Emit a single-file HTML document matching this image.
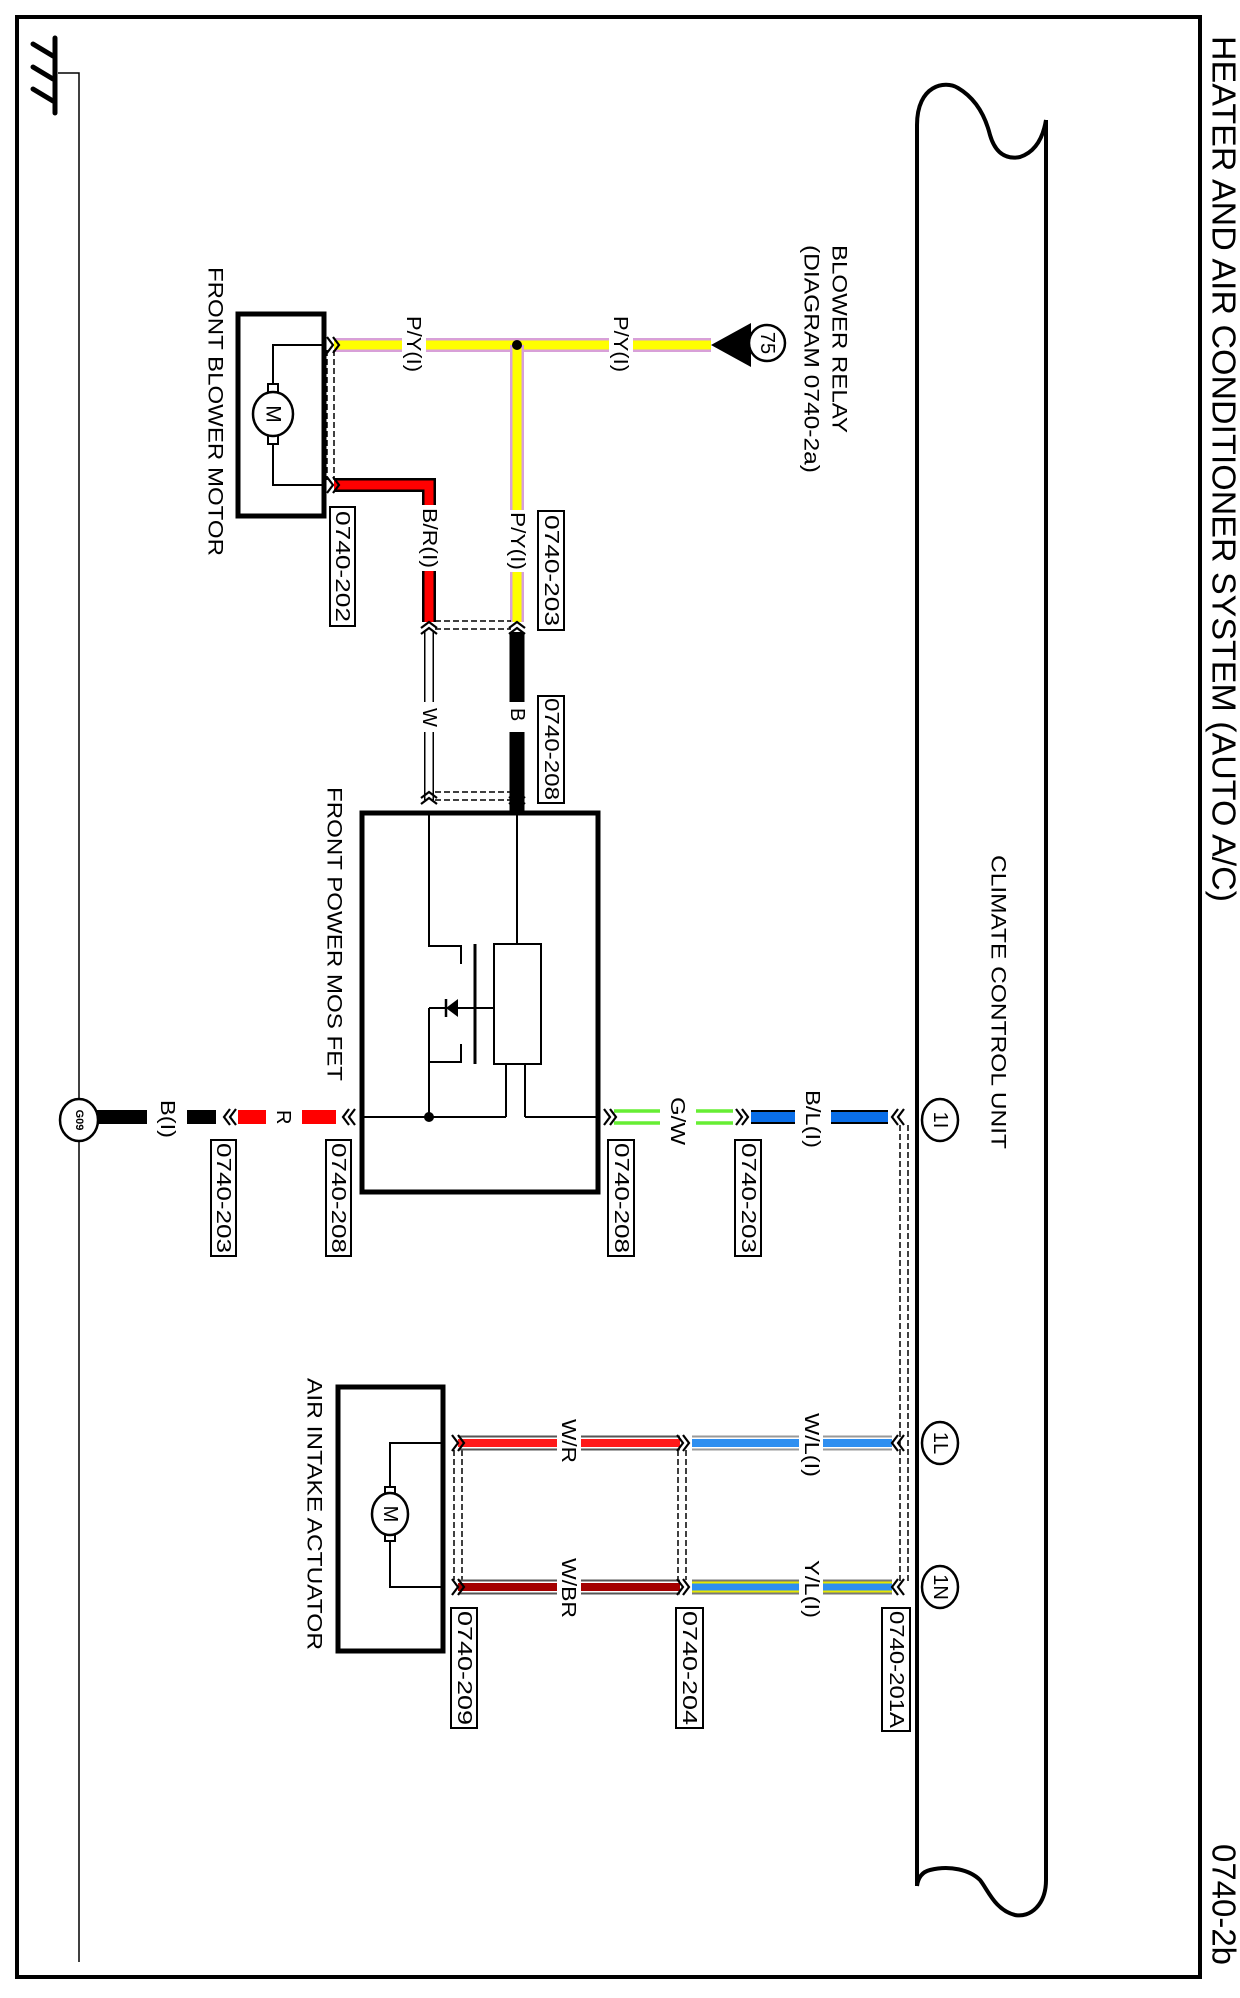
<!DOCTYPE html>
<html><head><meta charset="utf-8"><style>
html,body{margin:0;padding:0;background:#fff}
svg{display:block}
text{font-family:"Liberation Sans",sans-serif;fill:#000}
</style></head><body>
<svg width="1240" height="1998" viewBox="0 0 1240 1998" xmlns="http://www.w3.org/2000/svg">
<rect x="17" y="17" width="1183" height="1960" fill="none" stroke="#000" stroke-width="4"/>

<g stroke="#000" stroke-linecap="round">
<line x1="55" y1="38" x2="55" y2="113" stroke-width="5"/>
<line x1="33" y1="44" x2="53" y2="56" stroke-width="5"/>
<line x1="33" y1="67" x2="53" y2="79" stroke-width="5"/>
<line x1="33" y1="89" x2="53" y2="101" stroke-width="5"/>
</g>
<polyline points="58,73 79,73 79,1962" fill="none" stroke="#000" stroke-width="1.5"/>

<path d="M917,1886 L917,125 C917,85 945,80 958,88 C975,98 985,115 990,135 C995,152 1005,160 1020,157 C1035,152 1043,138 1046,120" fill="none" stroke="#000" stroke-width="4"/>
<path d="M1046,120 L1046,1880 C1046,1905 1030,1918 1015,1915 C995,1910 988,1890 980,1880 C970,1870 950,1865 930,1870 C922,1872 918,1878 917,1886" fill="none" stroke="#000" stroke-width="4"/>

<text transform="translate(1224,36) rotate(90)" dominant-baseline="central" font-size="33" textLength="866" lengthAdjust="spacingAndGlyphs">HEATER AND AIR CONDITIONER SYSTEM (AUTO A/C)</text>
<text transform="translate(1224,1844) rotate(90)" dominant-baseline="central" font-size="33" textLength="121" lengthAdjust="spacingAndGlyphs">0740-2b</text>

<g font-size="21">
<text transform="translate(839,245) rotate(90)" dominant-baseline="central" textLength="188" lengthAdjust="spacingAndGlyphs">BLOWER RELAY</text>
<text transform="translate(811,245) rotate(90)" dominant-baseline="central" textLength="228" lengthAdjust="spacingAndGlyphs">(DIAGRAM  0740-2a)</text>
<text transform="translate(215,267) rotate(90)" dominant-baseline="central" textLength="289" lengthAdjust="spacingAndGlyphs">FRONT BLOWER MOTOR</text>
<text transform="translate(334,787) rotate(90)" dominant-baseline="central" textLength="294" lengthAdjust="spacingAndGlyphs">FRONT POWER MOS FET</text>
<text transform="translate(998,855) rotate(90)" dominant-baseline="central" textLength="294" lengthAdjust="spacingAndGlyphs">CLIMATE CONTROL UNIT</text>
<text transform="translate(314,1378) rotate(90)" dominant-baseline="central" textLength="272" lengthAdjust="spacingAndGlyphs">AIR INTAKE ACTUATOR</text>
</g>

<rect x="238" y="314" width="86" height="202" fill="none" stroke="#000" stroke-width="5"/>
<polyline points="324,345 273,345 273,485 324,485" fill="none" stroke="#000" stroke-width="2"/>
<rect x="268" y="384" width="10" height="10" fill="#fff" stroke="#000" stroke-width="2"/>
<rect x="268" y="434" width="10" height="10" fill="#fff" stroke="#000" stroke-width="2"/>
<ellipse cx="273" cy="414" rx="20" ry="22" fill="#fff" stroke="#000" stroke-width="2.5"/>
<text transform="translate(273,414) rotate(90)" dominant-baseline="central" text-anchor="middle" font-size="21">M</text>

<line x1="334" y1="345" x2="711" y2="345" stroke="#d8a0d8" stroke-width="14"/>
<line x1="334" y1="345" x2="711" y2="345" stroke="#ffff00" stroke-width="9"/>
<line x1="517" y1="345" x2="517" y2="622" stroke="#d8a0d8" stroke-width="14"/>
<line x1="517" y1="345" x2="517" y2="622" stroke="#ffff00" stroke-width="9"/>
<circle cx="517" cy="345" r="5" fill="#000"/>
<polygon points="711,345 751,323 751,367" fill="#000"/>
<circle cx="767" cy="343" r="18" fill="#fff" stroke="#000" stroke-width="2.5"/>
<text transform="translate(767,343) rotate(90)" dominant-baseline="central" text-anchor="middle" font-size="20">75</text>

<polyline points="334,485 429,485 429,622" fill="none" stroke="#000" stroke-width="14"/>
<polyline points="334,485 429,485 429,622" fill="none" stroke="#ff0000" stroke-width="9"/>

<line x1="429" y1="632" x2="429" y2="800" stroke="#000" stroke-width="10"/>
<line x1="429" y1="632" x2="429" y2="800" stroke="#fff" stroke-width="7"/>
<line x1="517" y1="632" x2="517" y2="812" stroke="#000" stroke-width="15"/>

<g fill="#fff">
<rect x="402" y="312" width="24" height="62"/>
<rect x="609" y="312" width="24" height="62"/>
<rect x="418" y="505" width="24" height="66"/>
<rect x="506" y="510" width="24" height="62"/>
<rect x="418" y="702" width="24" height="30"/>
<rect x="506" y="702" width="24" height="30"/>
</g>
<g font-size="20">
<text transform="translate(413,316) rotate(90)" dominant-baseline="central" textLength="56" lengthAdjust="spacingAndGlyphs">P/Y(I)</text>
<text transform="translate(620,316) rotate(90)" dominant-baseline="central" textLength="56" lengthAdjust="spacingAndGlyphs">P/Y(I)</text>
<text transform="translate(429,508) rotate(90)" dominant-baseline="central" textLength="60" lengthAdjust="spacingAndGlyphs">B/R(I)</text>
<text transform="translate(517,512) rotate(90)" dominant-baseline="central" textLength="58" lengthAdjust="spacingAndGlyphs">P/Y(I)</text>
<text transform="translate(429,708) rotate(90)" dominant-baseline="central">W</text>
<text transform="translate(517,708) rotate(90)" dominant-baseline="central">B</text>
</g>

<g stroke="#000" stroke-width="1.5" stroke-dasharray="6,3" fill="none">
<line x1="327" y1="350" x2="327" y2="480"/><line x1="334" y1="350" x2="334" y2="480"/>
<line x1="435" y1="621" x2="511" y2="621"/><line x1="435" y1="629" x2="511" y2="629"/>
<line x1="435" y1="792" x2="511" y2="792"/><line x1="435" y1="800" x2="511" y2="800"/>
</g>
<g stroke="#000" stroke-width="2.2" fill="none">
<path d="M327,337 L333,345 L327,353 M333,337 L339,345 L333,353"/>
<path d="M327,477 L333,485 L327,493 M333,477 L339,485 L333,493"/>
<path d="M421,628 L429,622 L437,628 M421,634 L429,628 L437,634"/>
<path d="M509,628 L517,622 L525,628 M509,634 L517,628 L525,634"/>
<path d="M421,798 L429,792 L437,798 M421,804 L429,798 L437,804"/>
<path d="M509,798 L517,792 L525,798 M509,804 L517,798 L525,804"/>
</g>

<g fill="#fff" stroke="#000" stroke-width="2">
<rect x="330" y="507" width="25" height="119"/>
<rect x="538" y="511" width="26" height="119"/>
<rect x="538" y="696" width="26" height="107"/>
<rect x="211" y="1140" width="25" height="116"/>
<rect x="326" y="1140" width="25" height="116"/>
<rect x="608" y="1140" width="26" height="116"/>
<rect x="735" y="1140" width="26" height="116"/>
<rect x="451" y="1608" width="26" height="120"/>
<rect x="676" y="1608" width="27" height="120"/>
<rect x="882" y="1608" width="28" height="123"/>
</g>
<g font-size="20">
<text transform="translate(342,511) rotate(90)" dominant-baseline="central" textLength="111" lengthAdjust="spacingAndGlyphs">0740-202</text>
<text transform="translate(551,515) rotate(90)" dominant-baseline="central" textLength="111" lengthAdjust="spacingAndGlyphs">0740-203</text>
<text transform="translate(551,698) rotate(90)" dominant-baseline="central" textLength="102" lengthAdjust="spacingAndGlyphs">0740-208</text>
<text transform="translate(223,1143) rotate(90)" dominant-baseline="central" textLength="110" lengthAdjust="spacingAndGlyphs">0740-203</text>
<text transform="translate(338,1143) rotate(90)" dominant-baseline="central" textLength="110" lengthAdjust="spacingAndGlyphs">0740-208</text>
<text transform="translate(621,1143) rotate(90)" dominant-baseline="central" textLength="110" lengthAdjust="spacingAndGlyphs">0740-208</text>
<text transform="translate(748,1143) rotate(90)" dominant-baseline="central" textLength="110" lengthAdjust="spacingAndGlyphs">0740-203</text>
<text transform="translate(464,1611) rotate(90)" dominant-baseline="central" textLength="114" lengthAdjust="spacingAndGlyphs">0740-209</text>
<text transform="translate(689,1611) rotate(90)" dominant-baseline="central" textLength="114" lengthAdjust="spacingAndGlyphs">0740-204</text>
<text transform="translate(896,1611) rotate(90)" dominant-baseline="central" textLength="117" lengthAdjust="spacingAndGlyphs">0740-201A</text>
</g>

<rect x="362" y="813" width="236" height="379" fill="none" stroke="#000" stroke-width="5"/>
<g stroke="#000" stroke-width="2" fill="none">
<polyline points="429,813 429,946 461,946 461,964"/>
<polyline points="461,1044 461,1062 429,1062"/>
<line x1="429" y1="1008" x2="429" y2="1117"/>
<line x1="429" y1="1008" x2="494" y2="1008"/>
<line x1="475" y1="944" x2="475" y2="1064" stroke-width="3"/>
<rect x="494" y="944" width="47" height="120"/>
<line x1="517" y1="813" x2="517" y2="944"/>
<line x1="506" y1="1064" x2="506" y2="1117"/>
<line x1="525" y1="1064" x2="525" y2="1117"/>
<line x1="362" y1="1117" x2="506" y2="1117"/>
<line x1="525" y1="1117" x2="598" y2="1117"/>
<line x1="446" y1="999" x2="446" y2="1017" stroke-width="2.5"/>
</g>
<polygon points="446,1008 458,999 458,1017" fill="#000"/>
<circle cx="429" cy="1117" r="5" fill="#000"/>

<g stroke-width="14">
<line x1="95" y1="1117" x2="147" y2="1117" stroke="#000"/>
<line x1="187" y1="1117" x2="216" y2="1117" stroke="#000"/>
<line x1="238" y1="1117" x2="266" y2="1117" stroke="#ff0000"/>
<line x1="302" y1="1117" x2="336" y2="1117" stroke="#ff0000"/>
<line x1="751" y1="1117" x2="795" y2="1117" stroke="#000"/>
<line x1="831" y1="1117" x2="888" y2="1117" stroke="#000"/>
</g>
<g stroke-width="10">
<line x1="751" y1="1117" x2="795" y2="1117" stroke="#0a6ee8"/>
<line x1="831" y1="1117" x2="888" y2="1117" stroke="#0a6ee8"/>
</g>
<g stroke="#66ee33" stroke-width="3.5">
<line x1="614" y1="1111" x2="660" y2="1111"/><line x1="614" y1="1123" x2="660" y2="1123"/>
<line x1="696" y1="1111" x2="733" y2="1111"/><line x1="696" y1="1123" x2="733" y2="1123"/>
</g>
<g stroke="#000" stroke-width="2.2" fill="none">
<path d="M230,1109 L224,1117 L230,1125 M236,1109 L230,1117 L236,1125"/>
<path d="M349,1109 L343,1117 L349,1125 M355,1109 L349,1117 L355,1125"/>
<path d="M604,1109 L610,1117 L604,1125 M610,1109 L616,1117 L610,1125"/>
<path d="M736,1109 L742,1117 L736,1125 M742,1109 L748,1117 L742,1125"/>
<path d="M898,1109 L892,1117 L898,1125 M904,1109 L898,1117 L904,1125"/>
</g>
<ellipse cx="79" cy="1120" rx="19" ry="21" fill="#fff" stroke="#000" stroke-width="2.5"/>
<text transform="translate(79,1120) rotate(90)" dominant-baseline="central" text-anchor="middle" font-size="11" font-weight="bold">G09</text>
<ellipse cx="940" cy="1120" rx="18" ry="21" fill="#fff" stroke="#000" stroke-width="2.5"/>
<text transform="translate(940,1120) rotate(90)" dominant-baseline="central" text-anchor="middle" font-size="20">1I</text>
<g font-size="20">
<text transform="translate(167,1100) rotate(90)" dominant-baseline="central" textLength="38" lengthAdjust="spacingAndGlyphs">B(I)</text>
<text transform="translate(283,1110) rotate(90)" dominant-baseline="central">R</text>
<text transform="translate(677,1097) rotate(90)" dominant-baseline="central" textLength="48" lengthAdjust="spacingAndGlyphs">G/W</text>
<text transform="translate(812,1090) rotate(90)" dominant-baseline="central" textLength="58" lengthAdjust="spacingAndGlyphs">B/L(I)</text>
</g>

<g stroke="#000" stroke-width="1.5" stroke-dasharray="6,3" fill="none">
<line x1="900" y1="1125" x2="900" y2="1582"/><line x1="908" y1="1125" x2="908" y2="1582"/>
<line x1="454" y1="1450" x2="454" y2="1580"/><line x1="462" y1="1450" x2="462" y2="1580"/>
<line x1="678" y1="1450" x2="678" y2="1580"/><line x1="686" y1="1450" x2="686" y2="1580"/>
</g>

<rect x="338" y="1387" width="105" height="264" fill="none" stroke="#000" stroke-width="5"/>
<polyline points="443,1443 390,1443 390,1587 443,1587" fill="none" stroke="#000" stroke-width="2"/>
<rect x="385" y="1487" width="10" height="9" fill="#fff" stroke="#000" stroke-width="2"/>
<rect x="385" y="1532" width="10" height="9" fill="#fff" stroke="#000" stroke-width="2"/>
<ellipse cx="390" cy="1514" rx="18" ry="21" fill="#fff" stroke="#000" stroke-width="2.5"/>
<text transform="translate(390,1514) rotate(90)" dominant-baseline="central" text-anchor="middle" font-size="20">M</text>

<g>
<line x1="458" y1="1443" x2="680" y2="1443" stroke="#555" stroke-width="15"/>
<line x1="458" y1="1443" x2="680" y2="1443" stroke="#fff" stroke-width="11"/>
<line x1="458" y1="1443" x2="680" y2="1443" stroke="#ff1a1a" stroke-width="8"/>
<line x1="692" y1="1443" x2="892" y2="1443" stroke="#999" stroke-width="15"/>
<line x1="692" y1="1443" x2="892" y2="1443" stroke="#fff" stroke-width="11"/>
<line x1="692" y1="1443" x2="892" y2="1443" stroke="#2f8ff0" stroke-width="8"/>
<line x1="458" y1="1587" x2="680" y2="1587" stroke="#555" stroke-width="15"/>
<line x1="458" y1="1587" x2="680" y2="1587" stroke="#fff" stroke-width="11"/>
<line x1="458" y1="1587" x2="680" y2="1587" stroke="#a40000" stroke-width="8"/>
<line x1="692" y1="1587" x2="892" y2="1587" stroke="#777" stroke-width="15"/>
<line x1="692" y1="1587" x2="892" y2="1587" stroke="#e8e800" stroke-width="11"/>
<line x1="692" y1="1587" x2="892" y2="1587" stroke="#2f8ff0" stroke-width="7"/>
</g>
<g fill="#fff">
<rect x="557" y="1416" width="24" height="50"/>
<rect x="799" y="1410" width="24" height="70"/>
<rect x="557" y="1555" width="24" height="66"/>
<rect x="799" y="1557" width="24" height="64"/>
</g>
<g font-size="20">
<text transform="translate(568,1419) rotate(90)" dominant-baseline="central" textLength="44" lengthAdjust="spacingAndGlyphs">W/R</text>
<text transform="translate(811,1413) rotate(90)" dominant-baseline="central" textLength="64" lengthAdjust="spacingAndGlyphs">W/L(I)</text>
<text transform="translate(568,1558) rotate(90)" dominant-baseline="central" textLength="60" lengthAdjust="spacingAndGlyphs">W/BR</text>
<text transform="translate(811,1560) rotate(90)" dominant-baseline="central" textLength="58" lengthAdjust="spacingAndGlyphs">Y/L(I)</text>
</g>
<g stroke="#000" stroke-width="2.2" fill="none">
<path d="M452,1435 L458,1443 L452,1451 M458,1435 L464,1443 L458,1451"/>
<path d="M452,1579 L458,1587 L452,1595 M458,1579 L464,1587 L458,1595"/>
<path d="M677,1435 L683,1443 L677,1451 M683,1435 L689,1443 L683,1451"/>
<path d="M677,1579 L683,1587 L677,1595 M683,1579 L689,1587 L683,1595"/>
<path d="M898,1435 L892,1443 L898,1451 M904,1435 L898,1443 L904,1451"/>
<path d="M898,1579 L892,1587 L898,1595 M904,1579 L898,1587 L904,1595"/>
</g>
<ellipse cx="940" cy="1443" rx="18" ry="21" fill="#fff" stroke="#000" stroke-width="2.5"/>
<text transform="translate(940,1443) rotate(90)" dominant-baseline="central" text-anchor="middle" font-size="20">1L</text>
<ellipse cx="940" cy="1587" rx="18" ry="21" fill="#fff" stroke="#000" stroke-width="2.5"/>
<text transform="translate(940,1587) rotate(90)" dominant-baseline="central" text-anchor="middle" font-size="20">1N</text>
</svg>
</body></html>
